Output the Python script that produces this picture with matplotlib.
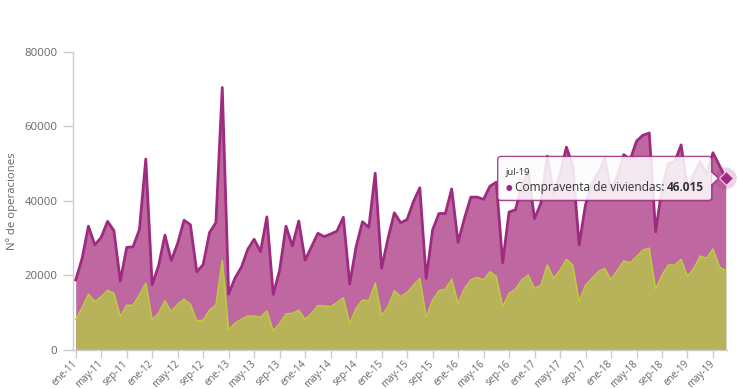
import matplotlib
matplotlib.use("Agg")
import matplotlib.pyplot as plt
from matplotlib.patches import FancyBboxPatch, Polygon, Circle
import numpy as np

plt.rcParams['font.family'] = ['Open Sans', 'DejaVu Sans']

# ---------------- data ----------------
month_abbr = ['ene', 'feb', 'mar', 'abr', 'may', 'jun',
              'jul', 'ago', 'sep', 'oct', 'nov', 'dic']
years = ['11', '12', '13', '14', '15', '16', '17', '18', '19']
categories = [f"{m}-{y}" for y in years for m in month_abbr][:103]  # ene-11 .. jul-19

# Compraventa de viviendas (purple), miles de operaciones
compraventa = [
    18.8, 24.5, 33.2, 28.2, 30.2, 34.5, 32.0, 18.5, 27.5, 27.7, 32.3, 51.2,
    17.5, 22.6, 30.8, 24.0, 28.6, 34.8, 33.6, 21.0, 22.9, 31.5, 34.2, 70.4,
    15.0, 19.3, 22.2, 27.0, 29.7, 26.4, 35.7, 14.9, 21.4, 33.2, 27.9, 34.6,
    24.1, 27.7, 31.3, 30.4, 31.1, 31.9, 35.6, 17.7, 27.7, 34.4, 32.9, 47.4,
    21.9, 29.9, 36.8, 34.1, 35.0, 39.8, 43.5, 19.2, 32.2, 36.6, 36.6, 43.2,
    28.9, 35.3, 41.0, 41.0, 40.4, 43.9, 45.0, 23.4, 37.0, 37.6, 44.0, 48.0,
    35.2, 39.4, 52.0, 42.0, 47.0, 54.4, 49.5, 28.2, 39.0, 44.5, 47.5, 51.3,
    43.0, 46.5, 52.4, 51.0, 56.0, 57.6, 58.2, 31.7, 43.5, 50.0, 50.5, 55.0,
    43.0, 47.0, 50.5, 47.0, 52.9, 49.5, 46.015,
]

# Second series (olive), miles de operaciones
segunda_serie = [
    8.2, 11.3, 15.0, 13.0, 14.3, 16.0, 15.2, 9.0, 12.0, 12.0, 14.8, 17.9,
    8.1, 9.8, 13.2, 10.3, 12.3, 13.6, 12.3, 7.8, 8.0, 10.7, 12.1, 24.0,
    5.4, 7.2, 8.2, 9.1, 9.1, 8.8, 10.5, 5.1, 7.1, 9.7, 9.8, 10.7,
    8.2, 9.8, 11.9, 11.8, 11.6, 12.7, 14.0, 7.1, 11.2, 13.4, 13.2, 17.9,
    9.2, 11.6, 15.9, 14.3, 15.4, 17.4, 19.2, 8.8, 13.4, 15.9, 16.3, 19.0,
    12.5, 16.5, 18.8, 19.5, 18.8, 21.0, 19.7, 11.6, 15.2, 16.3, 18.8, 20.1,
    16.5, 17.4, 22.8, 19.2, 21.4, 24.3, 22.8, 13.0, 17.4, 19.2, 21.0, 21.9,
    18.9, 21.4, 23.9, 23.4, 25.0, 26.8, 27.3, 16.3, 20.1, 22.8, 22.8, 24.3,
    19.8, 21.9, 25.2, 24.6, 27.1, 22.3, 21.3,
]

y_ticks = [0, 20000, 40000, 60000, 80000]
tick_step = 4
tooltip_index = 102
tooltip_series = "Compraventa de viviendas"
tooltip_value_text = "46.015"

# ---------------- figure ----------------
W, H = 740, 389
fig = plt.figure(figsize=(W / 100, H / 100), dpi=100)
left, right = 72.7 / W, 727.0 / W
bottom, top = 1 - 350 / H, 1 - 51.7 / H
ax = fig.add_axes([left, bottom, right - left, top - bottom])

x = np.arange(len(categories))
purple = np.array(compraventa) * 1000
olive = np.array(segunda_serie) * 1000

purple_fill = '#be67a1'
purple_line = '#9e2b80'
olive_fill = '#b8b35a'
olive_line = '#bccd3a'

ax.fill_between(x, 0, purple, color=purple_fill, lw=0, zorder=1)
ax.plot(x, purple, color=purple_line, lw=2.0, zorder=3)
ax.fill_between(x, 0, olive, color=olive_fill, lw=0, zorder=2)
ax.plot(x, olive, color=olive_line, lw=1.1, zorder=2.5)

ax.set_xlim(-0.47, 102.2)
ax.set_ylim(0, 80000)

axis_col = '#cccccc'
for s in ['top', 'right']:
    ax.spines[s].set_visible(False)
ax.spines['left'].set_color(axis_col)
ax.spines['bottom'].set_color(axis_col)
ax.spines['left'].set_linewidth(1)
ax.spines['bottom'].set_linewidth(1)

ax.set_yticks(y_ticks)
ax.set_yticklabels([str(v) for v in y_ticks])
ax.set_xticks(x[::tick_step])
ax.set_xticklabels(categories[::tick_step], rotation=45, ha='right',
                   va='center', rotation_mode='anchor')
ax.tick_params(axis='y', length=7.2, width=1, color=axis_col, pad=3.8,
               labelsize=8.2, labelcolor='#666666')
ax.tick_params(axis='x', length=6, width=1, color=axis_col, pad=3,
               labelsize=7.0, labelcolor='#666666')
ax.set_ylabel('Nº de operaciones', fontsize=8.2, color='#666666')
ax.yaxis.set_label_coords(-0.084, 0.5)

# ---------------- tooltip ----------------
fig.canvas.draw()
renderer = fig.canvas.get_renderer()
px, py = ax.transData.transform((tooltip_index, purple[tooltip_index]))

# halo + marker
halo = Circle((px, py), 11, transform=None, facecolor=purple_line,
              alpha=0.2, edgecolor='none', zorder=10)
fig.patches.append(halo)
ax.plot([tooltip_index], [purple[tooltip_index]], marker='D', ms=7.5,
        color=purple_line, mec='white', mew=0.8, zorder=12, clip_on=False)

bx0, bx1 = px - 228, px - 14
by0, by1 = py - 22, py + 22
shadow = FancyBboxPatch((bx0 + 1.5, by0 - 1.5), bx1 - bx0, by1 - by0,
                        boxstyle="round,pad=0,rounding_size=3", transform=None,
                        facecolor='black', alpha=0.08, edgecolor='none', zorder=13)
box = FancyBboxPatch((bx0, by0), bx1 - bx0, by1 - by0,
                     boxstyle="round,pad=0,rounding_size=3", transform=None,
                     facecolor='white', alpha=0.87, edgecolor=purple_line,
                     lw=1.0, zorder=14)
fig.patches.append(shadow)
fig.patches.append(box)
pointer = Polygon([[bx1 - 0.5, py + 7], [bx1 + 7, py], [bx1 - 0.5, py - 7]],
                  closed=False, transform=None, facecolor='white', alpha=0.95,
                  edgecolor=purple_line, lw=1.0, zorder=15)
fig.patches.append(pointer)

fig.text((bx0 + 8) / W, (py + 5.5) / H, categories[tooltip_index], fontsize=6.8,
         color='#333333', va='center', ha='left', zorder=16)
fig.text((bx0 + 8) / W, (py - 9.5) / H, '●', fontsize=5.5, color=purple_line,
         va='center', ha='left', family=['DejaVu Sans'], zorder=16)
t1 = fig.text((bx0 + 17) / W, (py - 9.5) / H, f'{tooltip_series}: ', fontsize=8.6,
              color='#333333', va='center', ha='left', zorder=16)
ext = t1.get_window_extent(renderer=renderer)
fig.text(ext.x1 / W, (py - 9.5) / H, tooltip_value_text, fontsize=8.6,
         color='#333333', va='center', ha='left', fontweight='bold', zorder=16)

fig.savefig('out.png', dpi=100)
